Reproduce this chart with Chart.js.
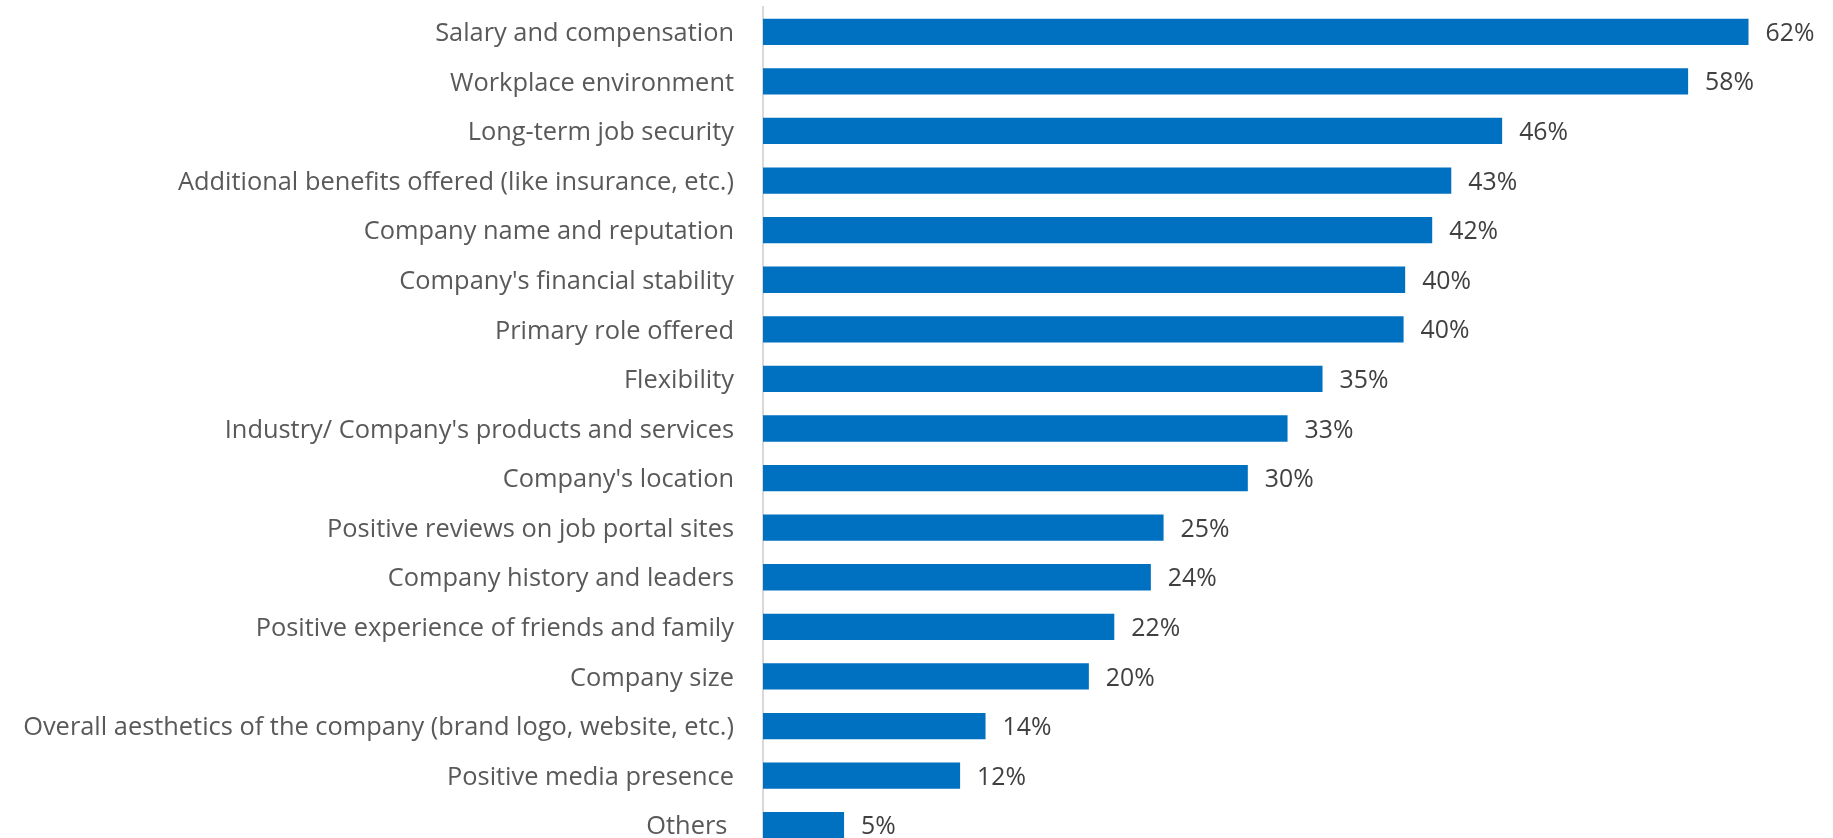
<!DOCTYPE html>
<html>
<head>
<meta charset="utf-8">
<script src="https://cdn.jsdelivr.net/npm/chart.js@4.4.1/dist/chart.umd.min.js"></script>
<style>
  html, body { margin: 0; padding: 0; background: #ffffff; overflow: hidden; }
  #wrap { position: relative; width: 1833px; height: 850px; }
</style>
</head>
<body>
<div id="wrap"><canvas id="c"></canvas></div>
<script>
const categories = [
  "Salary and compensation",
  "Workplace environment",
  "Long-term job security",
  "Additional benefits offered (like insurance, etc.)",
  "Company name and reputation",
  "Company's financial stability",
  "Primary role offered",
  "Flexibility",
  "Industry/ Company's products and services",
  "Company's location",
  "Positive reviews on job portal sites",
  "Company history and leaders",
  "Positive experience of friends and family",
  "Company size",
  "Overall aesthetics of the company (brand logo, website, etc.)",
  "Positive media presence",
  "Others "
];
const values = [62.0, 58.2, 46.5, 43.3, 42.1, 40.4, 40.3, 35.2, 33.0, 30.5, 25.2, 24.4, 22.1, 20.5, 14.0, 12.4, 5.1];
const valueLabels = ["62%", "58%", "46%", "43%", "42%", "40%", "40%", "35%", "33%", "30%", "25%", "24%", "22%", "20%", "14%", "12%", "5%"];

const FONT = "'Open Sans', Lato, sans-serif";

const valueLabelPlugin = {
  id: 'valueLabels',
  afterDatasetsDraw(chart) {
    const ctx = chart.ctx;
    const meta = chart.getDatasetMeta(0);
    ctx.save();
    ctx.font = "24.8px " + FONT;
    ctx.fillStyle = "#404040";
    ctx.textAlign = "left";
    ctx.textBaseline = "middle";
    meta.data.forEach((bar, i) => {
      ctx.fillText(valueLabels[i], bar.x + 17, bar.y + 2);
    });
    ctx.restore();
  }
};

new Chart(document.getElementById('c'), {
  type: 'bar',
  data: {
    labels: categories,
    datasets: [{
      data: values,
      backgroundColor: '#0070C0',
      borderWidth: 0,
      barPercentage: 1.0,
      categoryPercentage: 0.53
    }]
  },
  options: {
    indexAxis: 'y',
    responsive: true,
    maintainAspectRatio: false,
    animation: false,
    layout: { padding: { top: 7, bottom: 0, left: 0, right: 5 } },
    plugins: {
      legend: { display: false },
      tooltip: { enabled: false }
    },
    scales: {
      x: {
        display: false,
        min: 0,
        max: 67
      },
      y: {
        afterFit(scale) {
          scale.width = 763;
          scale.paddingTop = 0;
          scale.paddingBottom = 0;
        },
        grid: { display: false, drawTicks: false },
        border: { display: true, color: '#D9D9D9', width: 2 },
        ticks: {
          padding: 29,
          labelOffset: 2,
          color: '#595959',
          font: { family: FONT, size: 25.4 },
          autoSkip: false
        }
      }
    }
  },
  plugins: [valueLabelPlugin]
});
</script>
</body>
</html>
